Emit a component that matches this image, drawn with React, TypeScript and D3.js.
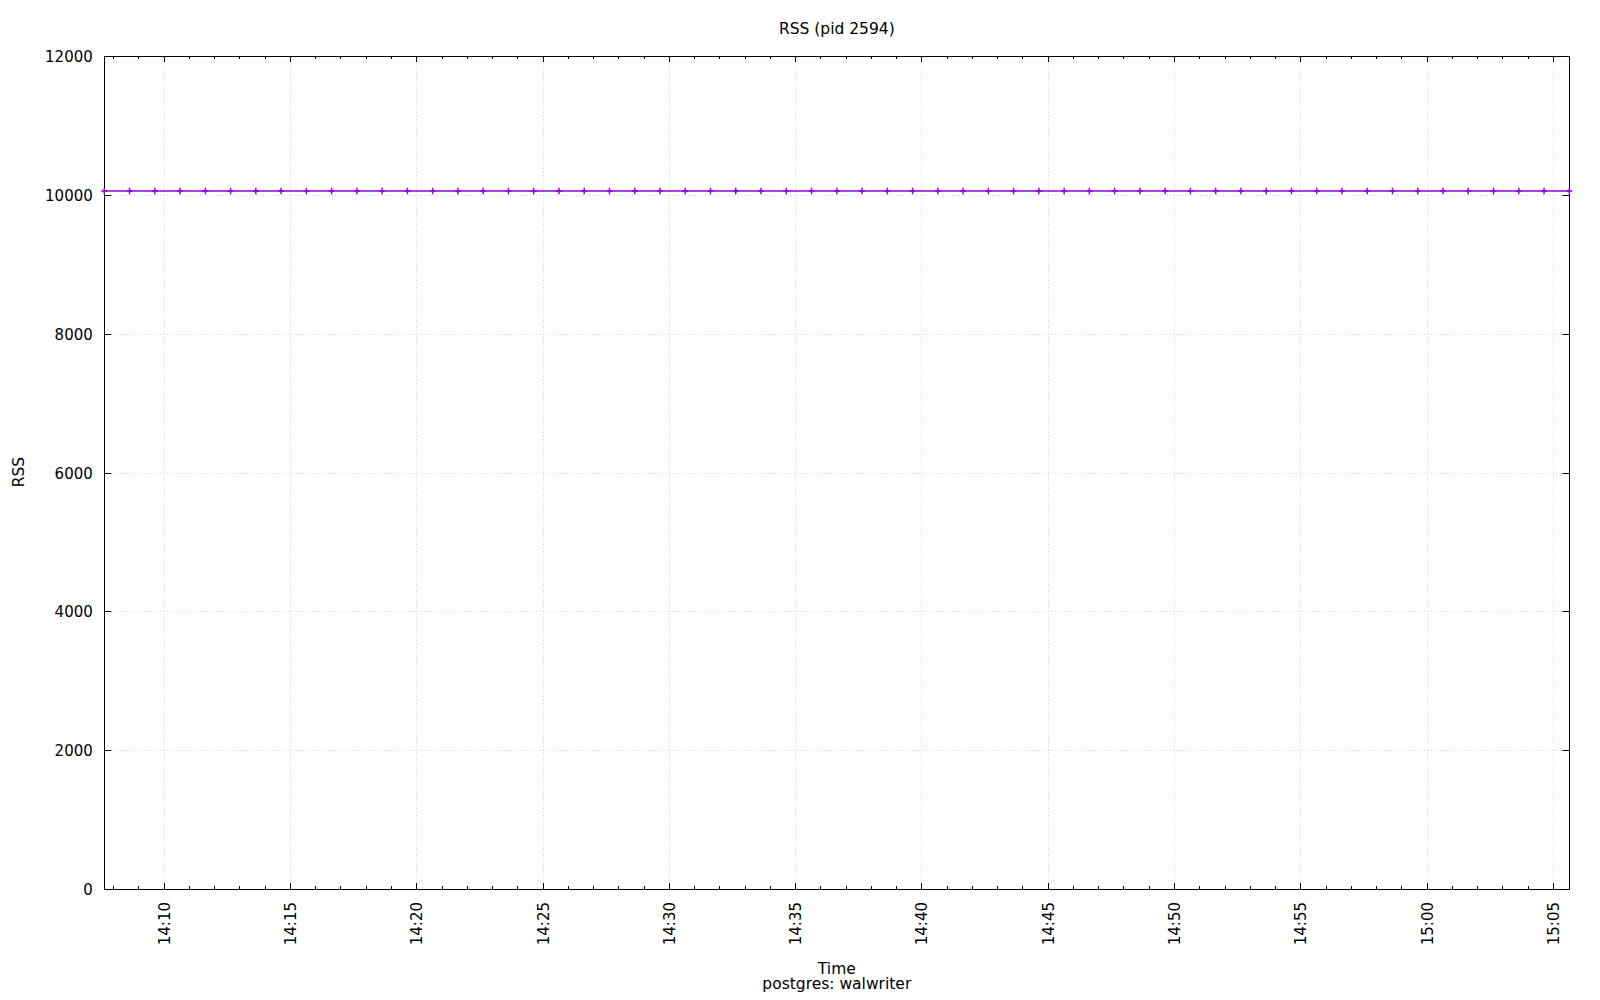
import React from "react";
import * as d3 from "d3";

const TITLE = "RSS (pid 2594)";
const X_LABEL = "Time";
const X_SUBLABEL = "postgres: walwriter";
const Y_LABEL = "RSS";

const times: string[] = [
  "14:07:39", "14:08:39", "14:09:39", "14:10:39", "14:11:39", "14:12:39", "14:13:39", "14:14:39",
  "14:15:39", "14:16:39", "14:17:39", "14:18:39", "14:19:39", "14:20:39", "14:21:39", "14:22:39",
  "14:23:39", "14:24:39", "14:25:39", "14:26:39", "14:27:39", "14:28:39", "14:29:39", "14:30:39",
  "14:31:39", "14:32:39", "14:33:39", "14:34:39", "14:35:39", "14:36:39", "14:37:39", "14:38:39",
  "14:39:39", "14:40:39", "14:41:39", "14:42:39", "14:43:39", "14:44:39", "14:45:39", "14:46:39",
  "14:47:39", "14:48:39", "14:49:39", "14:50:39", "14:51:39", "14:52:39", "14:53:39", "14:54:39",
  "14:55:39", "14:56:39", "14:57:39", "14:58:39", "14:59:39", "15:00:39", "15:01:39", "15:02:39",
  "15:03:39", "15:04:39", "15:05:39",
];

const rss: number[] = [
  10056, 10056, 10056, 10056, 10056, 10056, 10056, 10056,
  10056, 10056, 10056, 10056, 10056, 10056, 10056, 10056,
  10056, 10056, 10056, 10056, 10056, 10056, 10056, 10056,
  10056, 10056, 10056, 10056, 10056, 10056, 10056, 10056,
  10056, 10056, 10056, 10056, 10056, 10056, 10056, 10056,
  10056, 10056, 10056, 10056, 10056, 10056, 10056, 10056,
  10056, 10056, 10056, 10056, 10056, 10056, 10056, 10056,
  10056, 10056, 10056,
];

const yTicks: number[] = [0, 2000, 4000, 6000, 8000, 10000, 12000];
const Y_MAX = 12000;

const W = 1600;
const H = 1000;
const M = { left: 104.3, right: 1569.3, top: 56, bottom: 889 };
const FONT = "'DejaVu Sans', sans-serif";
const LINE_COLOR = "#9400d3";

const parse = d3.timeParse("%Y-%m-%d %H:%M:%S");

export default function App() {
  const dates = times.map((t) => parse("2024-01-01 " + t) as Date);
  const data = dates.map((d, i) => ({ t: d, v: rss[i] }));

  const x = d3
    .scaleTime()
    .domain(d3.extent(dates) as [Date, Date])
    .range([M.left, M.right]);
  const y = d3.scaleLinear().domain([0, Y_MAX]).range([M.bottom, M.top]);

  const majorX = x.ticks(d3.timeMinute.every(5) as d3.TimeInterval);
  const minorX = x
    .ticks(d3.timeMinute.every(1) as d3.TimeInterval)
    .filter((d) => d.getMinutes() % 5 !== 0);
  const fmt = d3.timeFormat("%H:%M");

  const line = d3
    .line<{ t: Date; v: number }>()
    .x((d) => x(d.t))
    .y((d) => y(d.v));

  const gridColor = "#d0d0d0";
  const cx = (M.left + M.right) / 2;

  return (
    <svg
      width={W}
      height={H}
      viewBox={`0 0 ${W} ${H}`}
      style={{ position: "absolute", left: 0, top: 0, background: "#fff", display: "block" }}
      fontFamily={FONT}
    >
      <rect x={0} y={0} width={W} height={H} fill="#fff" />
      {/* grid */}
      <g stroke={gridColor} strokeWidth={1} strokeDasharray="1,2.3" fill="none">
        {yTicks
          .filter((v) => v > 0 && v < Y_MAX)
          .map((v) => (
            <line key={"gy" + v} x1={M.left} x2={M.right} y1={Math.round(y(v)) + 0.5} y2={Math.round(y(v)) + 0.5} />
          ))}
        {majorX.map((d) => (
          <line key={"gx" + d.getTime()} x1={Math.round(x(d)) + 0.5} x2={Math.round(x(d)) + 0.5} y1={M.top} y2={M.bottom} />
        ))}
      </g>

      {/* border */}
      <rect
        x={Math.round(M.left) + 0.5}
        y={M.top + 0.5}
        width={Math.round(M.right) - Math.round(M.left)}
        height={M.bottom - M.top}
        fill="none"
        stroke="#000"
        strokeWidth={1}
      />

      {/* ticks */}
      <g stroke="#000" strokeWidth={1}>
        {yTicks.map((v) => {
          const yy = Math.round(y(v)) + 0.5;
          return (
            <g key={"yt" + v}>
              <line x1={M.left} x2={M.left + 7} y1={yy} y2={yy} />
              <line x1={M.right - 7} x2={M.right} y1={yy} y2={yy} />
            </g>
          );
        })}
        {majorX.map((d) => {
          const xx = Math.round(x(d)) + 0.5;
          return (
            <g key={"xt" + d.getTime()}>
              <line x1={xx} x2={xx} y1={M.bottom} y2={M.bottom - 6} />
              <line x1={xx} x2={xx} y1={M.top} y2={M.top + 6} />
            </g>
          );
        })}
        {minorX.map((d) => {
          const xx = Math.round(x(d)) + 0.5;
          return (
            <g key={"xm" + d.getTime()}>
              <line x1={xx} x2={xx} y1={M.bottom} y2={M.bottom - 3} />
              <line x1={xx} x2={xx} y1={M.top} y2={M.top + 3} />
            </g>
          );
        })}
      </g>

      {/* y tick labels */}
      <g fontSize={15} fill="#000" textAnchor="end">
        {yTicks.map((v) => (
          <text key={"yl" + v} x={M.left - 11.5} y={y(v) + 6}>
            {v}
          </text>
        ))}
      </g>

      {/* x tick labels */}
      <g fontSize={15} fill="#000" textAnchor="end">
        {majorX.map((d) => {
          const xx = x(d) + 6;
          const yy = 902;
          return (
            <text key={"xl" + d.getTime()} x={xx} y={yy} transform={`rotate(-90 ${xx} ${yy})`}>
              {fmt(d)}
            </text>
          );
        })}
      </g>

      {/* series */}
      <path d={line(data) || ""} fill="none" stroke={LINE_COLOR} strokeWidth={1.5} />
      <g stroke={LINE_COLOR} strokeWidth={1.5} fill="none">
        {data.map((d, i) => (
          <path
            key={"m" + i}
            transform={`translate(${x(d.t)},${y(d.v)})`}
            d="M-3,0H3M0,-3.2V3.2"
          />
        ))}
      </g>

      {/* titles */}
      <text x={cx} y={33.5} fontSize={15.5} textAnchor="middle" fill="#000">
        {TITLE}
      </text>
      <text x={cx} y={973.5} fontSize={15.5} textAnchor="middle" fill="#000">
        {X_LABEL}
      </text>
      <text x={cx} y={989} fontSize={15.5} textAnchor="middle" fill="#000">
        {X_SUBLABEL}
      </text>
      <text
        x={24}
        y={472}
        fontSize={15.5}
        textAnchor="middle"
        fill="#000"
        transform="rotate(-90 24 472)"
      >
        {Y_LABEL}
      </text>
    </svg>
  );
}
